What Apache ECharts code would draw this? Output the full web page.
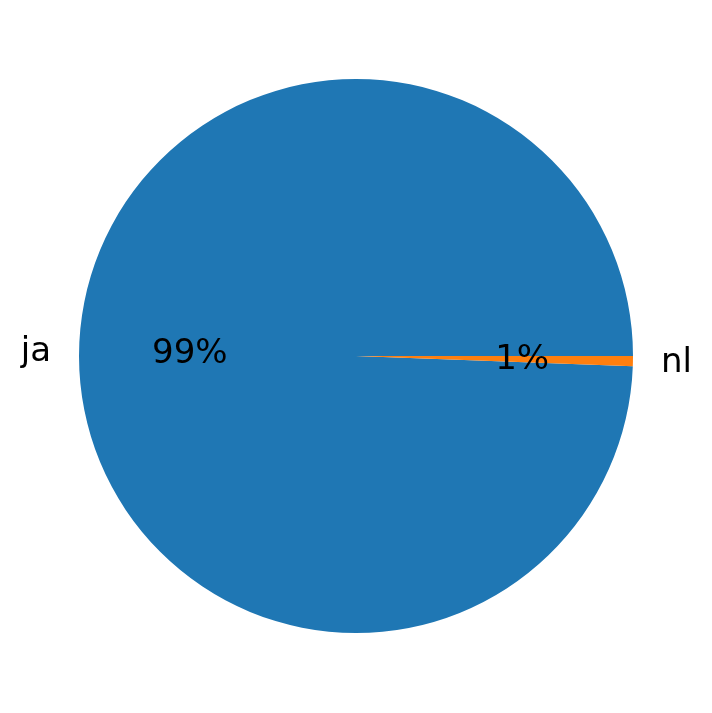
<!DOCTYPE html>
<html>
<head>
<meta charset="utf-8">
<script src="https://cdn.jsdelivr.net/npm/echarts@6/dist/echarts.min.js"></script>
<style>
html,body{margin:0;padding:0;background:#fff;}
#chart{width:712px;height:713px;}
</style>
</head>
<body>
<div id="chart"></div>
<script>
const categories = ['ja', 'nl'];
const values = [168, 1];
const colors = ['#1f77b4', '#ff7f0e'];

const total = values.reduce((a, b) => a + b, 0);
const data = categories.map((c, i) => ({ name: c, value: values[i], itemStyle: { color: colors[i] } }));

const chart = echarts.init(document.getElementById('chart'), null, { renderer: 'canvas' });
const R = 277;
const font = 'DejaVu Sans';
const fs = 34;
chart.setOption({
  animation: false,
  series: [
    {
      type: 'pie',
      center: [356, 356],
      radius: [0, R],
      startAngle: 0,
      clockwise: false,
      avoidLabelOverlap: false,
      data: data,
      label: {
        show: true,
        position: 'outside',
        formatter: '{b}',
        fontFamily: font,
        fontSize: fs,
        color: '#000',
        offset: [0, 1.5]
      },
      labelLine: { show: false, length: 23, length2: 0 },
      emphasis: { disabled: true }
    },
    {
      type: 'pie',
      center: [356, 356],
      radius: [R * 0.178, R],
      startAngle: 0,
      clockwise: false,
      avoidLabelOverlap: false,
      silent: true,
      data: data.map(d => ({ name: d.name, value: d.value, itemStyle: { color: 'rgba(0,0,0,0)' } })),
      label: {
        show: true,
        position: 'inside',
        formatter: p => Math.round(p.value / total * 100) + '%',
        fontFamily: font,
        fontSize: fs,
        color: '#000',
        offset: [0, 1.5]
      },
      labelLine: { show: false },
      emphasis: { disabled: true }
    }
  ]
});
</script>
</body>
</html>
